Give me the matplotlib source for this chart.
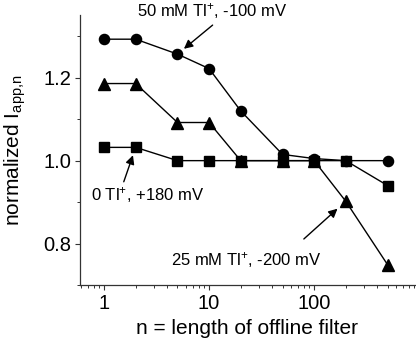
import matplotlib
matplotlib.use("Agg")
import matplotlib.pyplot as plt
from matplotlib.ticker import FixedLocator, NullFormatter, LogLocator

plt.rcParams["font.family"] = ["Liberation Sans", "DejaVu Sans"]
plt.rcParams["mathtext.fontset"] = "custom"
plt.rcParams["mathtext.rm"] = "Liberation Sans"
plt.rcParams["mathtext.it"] = "Liberation Sans:italic"

# Filter lengths (x values)
filter_n = [1, 2, 5, 10, 20, 50, 100, 200, 500]

# Normalized apparent current for each condition
tl50_m100 = [1.293, 1.293, 1.257, 1.222, 1.120, 1.015, 1.005, 1.000, 1.000]
tl25_m200 = [1.186, 1.186, 1.092, 1.092, 1.000, 1.000, 1.000, 0.902, 0.749]
tl0_p180 = [1.032, 1.032, 1.000, 1.000, 1.000, 1.000, 1.000, 1.000, 0.940]

# Annotation labels
label_50 = "50 mM Tl$^{+}$, -100 mV"
label_25 = "25 mM Tl$^{+}$, -200 mV"
label_0 = "0 Tl$^{+}$, +180 mV"

fig = plt.figure(figsize=(4.16, 3.42), dpi=100)
ax = fig.add_axes([0.1923, 0.1667, 0.805, 0.789])

# Series
ax.plot(filter_n, tl50_m100, color="k", lw=1.0, marker="o", ms=7.3)
ax.plot(filter_n, tl25_m200, color="k", lw=1.0, marker="^", ms=8.0)
ax.plot(filter_n, tl0_p180, color="k", lw=1.0, marker="s", ms=6.5)

# Axes
ax.set_xscale("log")
ax.set_xlim(0.59, 910)
ax.set_ylim(0.70, 1.351)
ax.set_xticks([1, 10, 100])
ax.set_xticklabels(["1", "10", "100"])
ax.xaxis.set_minor_locator(LogLocator(base=10, subs=range(2, 10)))
ax.xaxis.set_minor_formatter(NullFormatter())
ax.set_yticks([0.8, 1.0, 1.2])
ax.set_yticklabels(["0.8", "1.0", "1.2"])
ax.yaxis.set_minor_locator(FixedLocator([0.7, 0.9, 1.1, 1.3]))

for side in ("top", "right"):
    ax.spines[side].set_visible(False)
for side in ("left", "bottom"):
    ax.spines[side].set_color("#333333")
    ax.spines[side].set_linewidth(0.9)

ax.tick_params(which="major", direction="out", length=3.5, width=0.8,
               labelsize=14.5, colors="#333333", labelcolor="k", pad=3)
ax.tick_params(which="minor", direction="out", length=2, width=0.7,
               colors="#333333")

ax.set_xlabel("n = length of offline filter", fontsize=15, labelpad=4)
ax.set_ylabel("normalized I$_{\\mathrm{app{,}n}}$", fontsize=15)
ax.yaxis.set_label_coords(-0.155, 0.5)

# Annotations
arrow = dict(arrowstyle="-|>", color="k", lw=1.0, shrinkA=0, shrinkB=6,
             mutation_scale=13)
ax.annotate("", xy=(5, 1.257), xytext=(10.8, 1.327), arrowprops=arrow)
ax.annotate("", xy=(2, 1.032), xytext=(1.54, 0.949), arrowprops=arrow)
ax.annotate("", xy=(200, 0.902), xytext=(79.8, 0.811),
            arrowprops=dict(arrow, shrinkB=8))

ax.text(10.8, 1.361, label_50, ha="center", va="center", fontsize=12,
        clip_on=False)
ax.text(2.61, 0.918, label_0, ha="center", va="center", fontsize=12)
ax.text(22.4, 0.761, label_25, ha="center", va="center", fontsize=12)

fig.savefig("out.png", dpi=100)
